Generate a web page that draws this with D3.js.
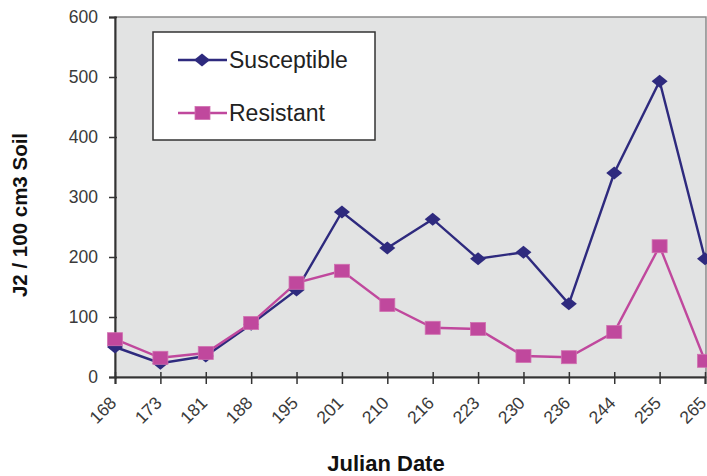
<!DOCTYPE html>
<html><head><meta charset="utf-8">
<script src="https://cdn.jsdelivr.net/npm/d3@7"></script>
<style>body{margin:0;background:#fff;} svg{display:block;}</style>
</head><body>
<script>
const categories = ["168","173","181","188","195","201","210","216","223","230","236","244","255","265"];
const susceptible = [50,23,35,88,145,275,215,263,197,208,122,340,493,197];
const resistant = [63,32,40,90,157,177,120,82,80,35,33,75,218,27];
const yTicks = [0,100,200,300,400,500,600];

(function(){
const W=707,H=476;
const svg=d3.select("body").append("svg").attr("width",W).attr("height",H);
const mLeft=115,mRight=706,mTop=17,mBottom=377;
const x=d3.scalePoint().domain(categories).range([mLeft,705]).padding(0);
const y=d3.scaleLinear().domain([0,600]).range([mBottom,mTop]);

svg.append("rect").attr("x",mLeft).attr("y",mTop).attr("width",mRight-mLeft).attr("height",mBottom-mTop)
  .attr("fill","#e2e3e3").attr("stroke","#8a8a8a").attr("stroke-width",1.5);

const font="Arial, 'Liberation Sans', sans-serif";
// y axis
const ya=svg.append("g").attr("transform",`translate(${mLeft},0)`)
  .call(d3.axisLeft(y).tickValues(yTicks).tickSize(6).tickPadding(11).tickFormat(d3.format("d")));
ya.select(".domain").attr("stroke","#333").attr("stroke-width",2);
ya.selectAll(".tick line").attr("stroke","#333").attr("stroke-width",1.5).attr("x2",-6).attr("x1",2);
ya.selectAll("text").attr("font-family",font).attr("font-size",17.5).attr("fill","#3a3a3a");

// x axis
const xa=svg.append("g").attr("transform",`translate(0,${mBottom})`)
  .call(d3.axisBottom(x).tickSize(7).tickPadding(6));
xa.select(".domain").attr("stroke","#333").attr("stroke-width",2);
xa.selectAll(".tick line").attr("stroke","#333").attr("stroke-width",1.5).attr("y1",-5).attr("y2",7);
xa.selectAll("text").attr("font-family",font).attr("font-size",17.5).attr("fill","#3a3a3a")
  .attr("text-anchor","end").attr("dy",0).attr("y",0).attr("x",0).attr("transform","translate(2,27) rotate(-45)");

const susColor="#2e2a7e", resColor="#c0489d";
const line=d3.line().x((d,i)=>x(categories[i])).y(d=>y(d));
svg.append("path").datum(susceptible).attr("d",line).attr("fill","none").attr("stroke",susColor).attr("stroke-width",2.4);
svg.append("path").datum(resistant).attr("d",line).attr("fill","none").attr("stroke",resColor).attr("stroke-width",2.4);

const diamondPath="M0,-6.5L8,0L0,6.5L-8,0Z";
svg.append("g").selectAll("path").data(susceptible).join("path")
  .attr("d",diamondPath).attr("transform",(d,i)=>`translate(${x(categories[i])},${y(d)})`)
  .attr("fill",susColor);
svg.append("g").selectAll("rect").data(resistant).join("rect")
  .attr("x",(d,i)=>x(categories[i])-7.5).attr("y",d=>y(d)-6.5).attr("width",15).attr("height",13)
  .attr("fill",resColor).attr("stroke","#d070b0").attr("stroke-width",0.8);

// legend
const lg=svg.append("g");
lg.append("rect").attr("x",153).attr("y",32).attr("width",222).attr("height",108).attr("fill","#fff").attr("stroke","#333").attr("stroke-width",1.5);
const items=[{n:"Susceptible",c:susColor,t:"d",yy:60,by:68},{n:"Resistant",c:resColor,t:"s",yy:113,by:121}];
items.forEach(it=>{
  lg.append("line").attr("x1",178).attr("x2",227).attr("y1",it.yy).attr("y2",it.yy).attr("stroke",it.c).attr("stroke-width",2.4);
  if(it.t==="d") lg.append("path").attr("d",diamondPath).attr("transform",`translate(202,${it.yy})`).attr("fill",it.c);
  else lg.append("rect").attr("x",195).attr("y",it.yy-6.5).attr("width",15).attr("height",13).attr("fill",it.c).attr("stroke","#d070b0").attr("stroke-width",0.8);
  lg.append("text").attr("x",229).attr("y",it.by).attr("font-family",font).attr("font-size",23).attr("fill","#222").text(it.n);
});

// axis titles
svg.append("text").attr("transform","translate(27,215) rotate(-90)").attr("text-anchor","middle")
  .attr("font-family",font).attr("font-weight","bold").attr("font-size",20.5).attr("fill","#111").text("J2 / 100 cm3 Soil");
svg.append("text").attr("x",386).attr("y",471).attr("text-anchor","middle")
  .attr("font-family",font).attr("font-weight","bold").attr("font-size",22).attr("fill","#111").text("Julian Date");
})();
</script>
</body></html>
